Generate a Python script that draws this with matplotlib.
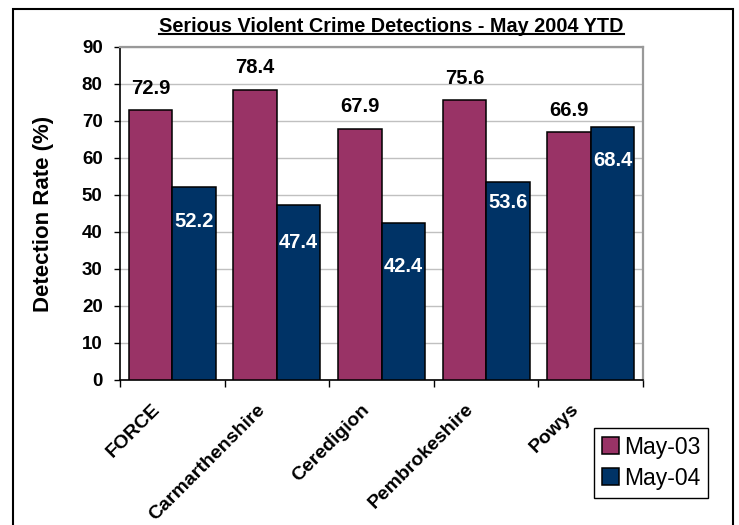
import numpy as np
import matplotlib.pyplot as plt
import matplotlib.transforms as mtransforms
from matplotlib.patches import Rectangle
from matplotlib.lines import Line2D

plt.rcParams['font.family'] = ['Liberation Sans', 'DejaVu Sans']

# data
areas = ['FORCE', 'Carmarthenshire', 'Ceredigion', 'Pembrokeshire', 'Powys']
may03 = [72.9, 78.4, 67.9, 75.6, 66.9]
may04 = [52.2, 47.4, 42.4, 53.6, 68.4]
series_names = ['May-03', 'May-04']

MAROON = '#993366'
NAVY = '#003366'
BAR_W = 0.416
# how far (points) the white labels sit below the top of the May-04 bars
inner_drop = [25, 27, 31, 15, 24]

fig = plt.figure(figsize=(7.39, 5.25), dpi=100)
ax = fig.add_axes([0.1624, 0.2762, 0.8701 - 0.1624, 0.9105 - 0.2762])

x = np.arange(len(areas))
b1 = ax.bar(x - BAR_W / 2, may03, BAR_W, color=MAROON, edgecolor='black', lw=1.1,
            label=series_names[0], zorder=3)
b2 = ax.bar(x + BAR_W / 2, may04, BAR_W, color=NAVY, edgecolor='black', lw=1.1,
            label=series_names[1], zorder=3)

# value labels
for xi, v in zip(x, may03):
    ax.annotate(f'{v:.1f}', (xi - BAR_W / 2, v), xytext=(0, 16), textcoords='offset points',
                ha='center', va='center', fontsize=14.5, fontweight='bold', color='black')
for xi, v, d in zip(x, may04, inner_drop):
    ax.annotate(f'{v:.1f}', (xi + BAR_W / 2, v), xytext=(0, -d), textcoords='offset points',
                ha='center', va='center', fontsize=14.5, fontweight='bold', color='white', zorder=4)

ax.set_xlim(-0.5, len(areas) - 0.5)
ax.set_ylim(0, 90)
ax.set_yticks(np.arange(0, 91, 10))
ax.yaxis.grid(True, color='#c0c0c0', lw=1.0, zorder=0)
ax.set_axisbelow(True)

ax.set_xticks(x)
ax.set_xticklabels(areas, rotation=45, ha='right', va='top', rotation_mode='anchor',
                   fontsize=14, fontweight='bold')
ax.tick_params(axis='x', which='major', length=0, pad=15)
shift = mtransforms.ScaledTranslation(-15 / 72, 0, fig.dpi_scale_trans)
for lab in ax.get_xticklabels():
    lab.set_transform(lab.get_transform() + shift)
ax.set_xticks(np.arange(-0.5, len(areas), 1.0), minor=True)
ax.tick_params(axis='x', which='minor', length=5, width=1.0, direction='out')
ax.tick_params(axis='y', length=4.5, width=1.0, direction='out', pad=8, labelsize=13.5)
for lab in ax.get_yticklabels():
    lab.set_fontweight('bold')

for s in ['left', 'bottom']:
    ax.spines[s].set_color('black')
    ax.spines[s].set_linewidth(1.2)
for s in ['top', 'right']:
    ax.spines[s].set_color('#999999')
    ax.spines[s].set_linewidth(1.6)

ax.set_ylabel('Detection Rate (%)', fontsize=16, fontweight='bold', labelpad=20)

leg = ax.legend(loc='lower left', bbox_to_anchor=(594 / 739, 1 - 497.7 / 525), bbox_transform=fig.transFigure,
                fontsize=16.5, frameon=True, fancybox=False, edgecolor='black', framealpha=1,
                handlelength=0.75, handleheight=0.75, handletextpad=0.2, borderpad=0.35,
                labelspacing=0.35, borderaxespad=0)
leg.get_frame().set_linewidth(1.0)

# title with underline
title = fig.text(391.5 / 739, 1 - 26 / 525, 'Serious Violent Crime Detections - May 2004 YTD',
                 ha='center', va='center', fontsize=14.3, fontweight='bold')

# outer chart border
fig.patches.append(Rectangle((13 / 739, -0.05), (733 - 13) / 739, 1.05 - 9 / 525,
                             transform=fig.transFigure, fill=False, edgecolor='black', lw=1.5))

fig.canvas.draw()
bb = title.get_window_extent().transformed(fig.transFigure.inverted())
fig.lines.append(Line2D([bb.x0, bb.x1], [bb.y0 + 0.002, bb.y0 + 0.002], transform=fig.transFigure,
                        color='black', lw=1.5))

fig.savefig('out.png', dpi=100)
